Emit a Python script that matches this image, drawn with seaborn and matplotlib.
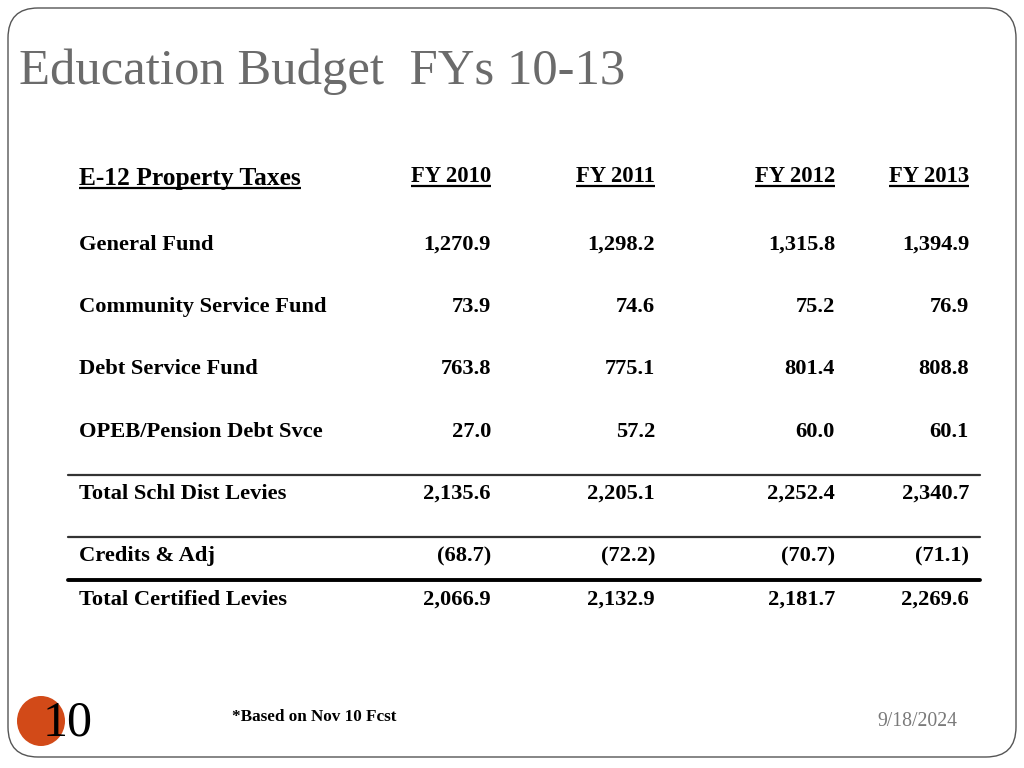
import matplotlib
matplotlib.use("Agg")
import matplotlib.pyplot as plt
from matplotlib.patches import FancyBboxPatch, Ellipse
import seaborn as sns
import pandas as pd

# ---- data ----
title = "Education Budget  FYs 10-13"
header_label = "E-12 Property Taxes"
years = ["FY 2010", "FY 2011", "FY 2012", "FY 2013"]
row_labels = ["General Fund", "Community Service Fund", "Debt Service Fund",
              "OPEB/Pension Debt Svce", "Total Schl Dist Levies",
              "Credits & Adj", "Total Certified Levies"]
fy2010 = ["1,270.9", "73.9", "763.8", "27.0", "2,135.6", "(68.7)", "2,066.9"]
fy2011 = ["1,298.2", "74.6", "775.1", "57.2", "2,205.1", "(72.2)", "2,132.9"]
fy2012 = ["1,315.8", "75.2", "801.4", "60.0", "2,252.4", "(70.7)", "2,181.7"]
fy2013 = ["1,394.9", "76.9", "808.8", "60.1", "2,340.7", "(71.1)", "2,269.6"]
footnote = "*Based on Nov 10 Fcst"
slide_no = "10"
date_text = "9/18/2024"

df = pd.DataFrame({years[0]: fy2010, years[1]: fy2011, years[2]: fy2012, years[3]: fy2013},
                  index=row_labels)

# ---- style ----
sns.set_theme(style="white")
plt.rcParams["font.family"] = ["Liberation Serif", "DejaVu Serif"]

fig = plt.figure(figsize=(10.24, 7.68), dpi=100)
ax = fig.add_axes([0, 0, 1, 1])
ax.set_xlim(0, 1024)
ax.set_ylim(768, 0)
ax.axis("off")

# slide frame
frame = FancyBboxPatch((8, 8), 1008, 749, boxstyle="round,pad=0,rounding_size=30",
                       fc="white", ec="#555555", lw=1.0)
ax.add_patch(frame)

# title
ax.text(19, 72, title, fontsize=36.5, color="#6b6b6b", va="center", ha="left")

# layout
label_x = 79
col_right = [491, 655, 835, 969]
row_y = [245, 307, 369, 432, 494, 556, 600]

# header
hdr = [ax.text(label_x, 178, header_label, fontsize=18.4, fontweight="bold",
               va="center", ha="left", color="black")]
for x, yr in zip(col_right, df.columns):
    hdr.append(ax.text(x, 177, yr, fontsize=16.3, fontweight="bold",
                       va="center", ha="right", color="black"))

fig.canvas.draw()
r = fig.canvas.get_renderer()
inv = ax.transData.inverted()
for t in hdr:
    bb = t.get_window_extent(renderer=r)
    (x0, y0), (x1, y1) = inv.transform([(bb.x0, bb.y0), (bb.x1, bb.y1)])
    ax.plot([x0, x1], [y0 - 2, y0 - 2], color="black", lw=1.6, solid_capstyle="butt")

# rows
for lbl, y in zip(df.index, row_y):
    ax.text(label_x, y, lbl, fontsize=16.2, fontweight="bold", va="center", ha="left", color="black")
    for x, col in zip(col_right, df.columns):
        ax.text(x, y, df.loc[lbl, col], fontsize=16.2, fontweight="bold",
                va="center", ha="right", color="black")

# rules
ax.plot([68, 980], [475, 475], color="#333333", lw=1.6)
ax.plot([68, 980], [537, 537], color="#333333", lw=1.6)
ax.plot([68, 980], [580, 580], color="black", lw=2.8)

# footer
ax.add_patch(Ellipse((41, 721), 48, 50, fc="#D24A18", ec="none"))
ax.text(68, 723, slide_no, fontsize=36, color="black", va="center", ha="center")
ax.text(232, 717, footnote, fontsize=12.3, fontweight="bold", va="center", ha="left", color="black")
ax.text(957, 722, date_text, fontsize=14.2, color="#7a7a7a", va="center", ha="right")

fig.savefig("out.png", dpi=100)
